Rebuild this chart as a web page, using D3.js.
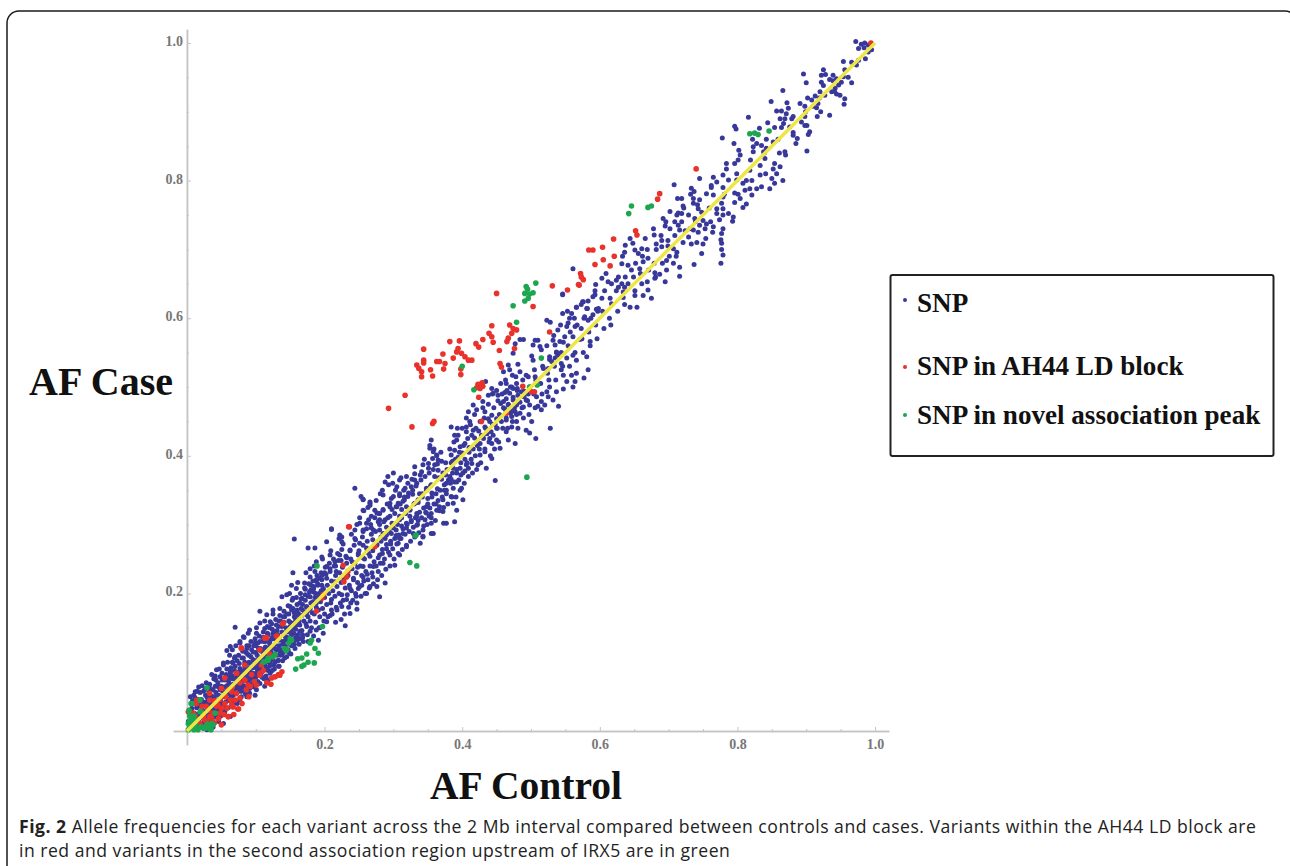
<!DOCTYPE html>
<html>
<head>
<meta charset="utf-8">
<script src="https://cdnjs.cloudflare.com/ajax/libs/d3/7.8.5/d3.min.js"></script>
<style>
html, body { margin: 0; padding: 0; background: #fff; }
svg { display: block; }
</style>
</head>
<body>
<svg id="chart" width="1290" height="866"></svg>
<script>
// values: [AF control, AF case]
const snp = [
[.972,1.002],[.980,.998],[.985,1.0],[.990,.997],[.984,.993],[.976,.992],[.995,.990],[.990,.987],[.986,.977],[.976,.975],[.966,.972],[.954,.973],[.973,.968],[.956,.961],[.925,.961],[.896,.955],[.922,.953],[.928,.954],[.900,.942],[.966,.942],[.954,.951],[.939,.953],[.934,.947],[.944,.948],[.922,.943],[.925,.938],[.951,.943],[.947,.939],[.942,.934],[.866,.931],[.944,.926],[.949,.924],[.956,.919],[.955,.911],[.937,.929],[.927,.924],[.920,.929],[.913,.923],[.908,.917],[.917,.912],[.915,.906],[.910,.908],[.849,.915],[.872,.913],[.891,.912],[.898,.908],[.874,.905],[.857,.901],[.864,.901],[.871,.897],[.881,.893],[.869,.890],[.898,.893],[.916,.893],[.934,.895],[.816,.892],[.844,.884],[.796,.879],[.798,.875],[.832,.876],[.867,.883],[.864,.877],[.854,.877],[.876,.878],[.893,.885],[.898,.880],[.905,.871],[.903,.867],[.881,.866],[.887,.861],[.885,.854],[.778,.862],[.828,.854],[.823,.849],[.835,.851],[.852,.856],[.842,.847],[.823,.842],[.838,.842],[.869,.842],[.870,.837],[.901,.843],[.795,.854],[.802,.844],[.804,.837],[.801,.830],[.796,.825],[.784,.825],[.784,.817],[.840,.832],[.833,.822],[.818,.815],[.833,.808],[.854,.825],[.862,.820],[.852,.817],[.857,.810],[.850,.803],[.866,.800],[.854,.796],[.847,.788],[.835,.791],[.828,.788],[.818,.788],[.811,.786],[.813,.800],[.808,.796],[.799,.801],[.787,.801],[.779,.808],[.765,.805],[.745,.803],[.770,.798],[.762,.793],[.708,.794],[.733,.789],[.737,.784],[.755,.781],[.765,.779],[.796,.782],[.821,.779],[.804,.774],[.796,.768],[.813,.766],[.808,.761],[.779,.776],[.777,.767],[.779,.759],[.736,.774],[.745,.772],[.736,.767],[.713,.774],[.719,.774],[.721,.763],[.743,.759],[.748,.754],[.702,.755],[.714,.753],[.719,.752],[.770,.759],[.770,.752],[.779,.750],[.787,.752],[.794,.747],[.774,.743],[.793,.741],[.738,.745],[.750,.742],[.755,.737],[.745,.735],[.709,.740],[.714,.735],[.696,.740],[.695,.734],[.716,.728],[.724,.727],[.736,.728],[.743,.725],[.753,.730],[.765,.733],[.764,.725],[.779,.730],[.777,.723],[.754,.716],[.750,.708],[.729,.718],[.733,.708],[.776,.714],[.777,.709],[.777,.700],[.779,.692],[.776,.680],[.748,.694],[.737,.678],[.679,.721],[.666,.716],[.682,.708],[.690,.713],[.699,.713],[.690,.704],[.707,.701],[.712,.696],[.644,.716],[.648,.709],[.637,.706],[.636,.696],[.651,.699],[.661,.701],[.656,.694],[.670,.687],[.663,.682],[.697,.684],[.707,.680],[.716,.674],[.697,.670],[.716,.661],[.680,.666],[.687,.664],[.680,.658],[.695,.653],[.632,.679],[.641,.677],[.646,.670],[.658,.672],[.669,.653],[.670,.641],[.663,.633],[.675,.629],[.561,.672],[.603,.658],[.609,.665],[.612,.653],[.594,.649],[.624,.655],[.632,.650],[.627,.645],[.636,.645],[.641,.650],[.634,.638],[.651,.633],[.615,.629],[.590,.631],[.603,.629],[.546,.634],[.576,.624],[.566,.616],[.581,.614],[.598,.614],[.617,.621],[.644,.616],[.654,.616],
[.593,.634],[.546,.635],[.575,.624],[.582,.614],[.595,.613],[.566,.616],[.546,.607],[.559,.607],[.556,.600],[.578,.602],[.583,.597],[.590,.605],[.523,.597],[.528,.594],[.539,.583],[.554,.593],[.552,.588],[.564,.588],[.573,.585],[.549,.573],[.561,.573],[.571,.569],[.542,.566],[.532,.568],[.535,.561],[.506,.568],[.510,.568],[.503,.561],[.513,.559],[.515,.554],[.537,.551],[.527,.544],[.535,.542],[.539,.546],[.530,.537],[.484,.569],[.489,.569],[.477,.563],[.501,.545],[.474,.549],[.467,.532],[.481,.533],[.503,.539],[.484,.522],[.469,.525],[.460,.522],[.473,.517],[.493,.517],[.506,.515],[.518,.527],[.525,.527],[.544,.534],[.544,.525],[.552,.542],[.561,.546],[.566,.539],[.581,.544],[.586,.566],[.583,.525],[.559,.517],[.547,.517],[.552,.508],[.564,.508],[.577,.513],[.561,.500],[.547,.497],[.527,.500],[.523,.493],[.537,.493],[.525,.486],[.532,.481],[.508,.486],[.515,.479],[.520,.474],[.540,.472],[.510,.472],[.515,.467],[.464,.505],[.479,.505],[.474,.498],[.469,.491],[.464,.483],[.481,.488],[.486,.493],[.474,.481],[.460,.479],[.467,.474],[.479,.474],[.493,.481],[.489,.471],[.498,.474],[.434,.508],[.443,.498],[.445,.491],[.438,.488],[.452,.488],[.430,.479],[.416,.474],[.421,.467],[.409,.464],[.433,.464],[.443,.459],[.438,.454],[.450,.454],[.477,.464],[.464,.452],[.472,.457],[.484,.462],[.479,.450],[.501,.450],[.528,.440],[.472,.442],[.464,.435],[.493,.437],[.498,.433],[.507,.425],[.467,.423],[.477,.418],[.455,.411],[.450,.423],[.440,.425],[.443,.418],[.433,.442],[.411,.450],[.406,.442],[.416,.437],[.406,.435],[.384,.442],[.389,.430],[.392,.423],[.426,.418],[.433,.406],[.426,.401],[.443,.396],[.404,.418],[.397,.413],[.389,.408],[.384,.401],[.355,.423],[.353,.411],[.358,.406],[.363,.401],[.365,.394],[.360,.387],[.351,.389],[.365,.379],[.343,.387],[.331,.384],[.341,.377],[.331,.374],[.406,.387],[.414,.389],[.397,.382],[.387,.382],[.392,.375],[.409,.382],[.423,.387],[.435,.382],[.448,.364],[.382,.370],[.377,.360],[.387,.353],[.399,.353],[.401,.336],[.377,.345],[.384,.341],[.387,.331],[.392,.321],[.372,.336],[.367,.326],[.389,.304],[.377,.302],[.372,.319],[.355,.358],[.348,.353],[.338,.345],[.331,.365],[.319,.370],[.309,.365],[.300,.375],[.292,.370],[.288,.362],[.284,.350],[.285,.343],[.305,.355],[.317,.353],[.326,.355],[.309,.345],[.321,.341],[.300,.341],[.295,.326],[.307,.331],[.319,.326],[.331,.331],[.334,.316],[.324,.312],[.309,.312],[.348,.326],[.355,.316],[.346,.307],[.355,.302],[.334,.299],[.319,.295],[.304,.292],[.309,.280],[.244,.353],[.253,.341],[.256,.337],[.266,.333],[.266,.328],[.256,.321],[.273,.321],[.280,.316],[.268,.312],[.278,.304],[.288,.307],[.261,.302],[.251,.302],[.268,.295],[.256,.290],[.210,.293],[.225,.282],[.244,.292],[.280,.292],[.244,.280],[.290,.285],[.343,.282],[.355,.287],
[.256,.336],[.266,.331],[.295,.331],[.305,.326],[.314,.334],[.324,.321],[.285,.321],[.276,.317],[.264,.307],[.280,.307],[.295,.312],[.309,.307],[.319,.302],[.334,.312],[.348,.317],[.363,.321],[.373,.302],[.358,.287],[.343,.283],[.329,.287],[.314,.287],[.297,.287],[.285,.287],[.271,.292],[.256,.292],[.247,.300],[.222,.285],[.225,.275],[.210,.294],[.203,.275],[.156,.279],[.176,.266],[.186,.266],[.237,.263],[.251,.273],[.261,.266],[.276,.271],[.290,.271],[.307,.273],[.319,.268],[.339,.273],[.249,.256],[.266,.254],[.280,.256],[.295,.256],[.309,.256],[.302,.241],[.285,.244],[.271,.239],[.256,.239],[.222,.256],[.208,.256],[.215,.246],[.196,.253],[.188,.246],[.203,.239],[.217,.232],[.186,.232],[.179,.224],[.154,.230],[.171,.215],[.188,.220],[.203,.222],[.198,.207],[.184,.207],[.215,.217],[.242,.220],[.256,.224],[.266,.210],[.276,.210],[.280,.195],[.288,.215],[.261,.200],[.249,.207],[.237,.207],[.225,.198],[.232,.191],[.225,.181],[.237,.171],[.247,.177],[.210,.191],[.210,.176],[.230,.153],[.203,.159],[.193,.166],[.174,.181],[.159,.207],[.152,.212],[.145,.198],[.138,.195],[.154,.193],[.167,.193],[.179,.195],[.188,.186],[.174,.169],[.162,.171],[.150,.181],[.135,.178],[.125,.176],[.116,.169],[.106,.174],[.140,.166],[.155,.157],[.121,.159],[.106,.157],[.091,.147],[.070,.151],[.082,.137],[.101,.142],[.113,.149],[.125,.142],[.133,.152],[.145,.145],[.077,.128],[.063,.123],[.058,.117],[.070,.108],[.087,.120],[.099,.128],[.111,.130],[.121,.132],[.147,.118],[.138,.111],[.133,.103],[.155,.142],[.164,.145],[.188,.147],[.198,.142],[.191,.132],[.179,.145],[.174,.152],[.067,.099],[.053,.099],[.043,.089],[.036,.082],[.048,.079],[.063,.086],[.077,.091],[.091,.099],[.106,.106],[.121,.099],[.113,.089],[.104,.082],[.091,.084],[.082,.074],[.094,.069],[.106,.069],[.118,.074],[.113,.065],[.101,.060],[.091,.055],[.099,.052],[.077,.060],[.067,.052],[.077,.045],[.087,.050],[.026,.060],[.019,.056],[.012,.057],[.029,.050],[.041,.065],[.050,.065],[.060,.074],[.038,.045],[.050,.040],[.009,.040],[.007,.033],[.019,.040],[.031,.036],[.043,.026],[.067,.036],[.063,.021],[.053,.011],[.046,.014],[.038,.006],[.029,.002],[.004,.026],[.002,.014],
[.090,.110],[.096,.115],[.104,.120],[.112,.118],[.120,.122],[.128,.126],[.135,.132],[.142,.138],[.150,.152],[.158,.162],[.166,.178],[.172,.190],[.180,.205],[.190,.212],[.196,.226],[.208,.232],[.216,.240],[.224,.248],[.232,.252],[.240,.246],[.248,.238],[.256,.252],[.262,.262],[.270,.278],[.282,.282],[.290,.296],[.298,.302],[.302,.316],[.312,.322],[.316,.336],[.328,.344],[.336,.332],[.342,.340],[.350,.338],[.356,.346],[.364,.352],[.370,.366],[.376,.372],[.386,.392],[.394,.398],[.400,.404],[.410,.412],[.418,.426],[.424,.436],[.430,.428],[.436,.432],[.444,.446],[.450,.440],[.456,.458],[.462,.468],[.470,.462],[.476,.470],[.484,.478],[.490,.486],[.456,.476],[.462,.492],[.470,.500],[.480,.498],[.490,.494],[.496,.490],
[.130,.118],[.124,.112],[.118,.112],[.112,.104],[.104,.096],[.096,.092],[.088,.090],[.082,.086],[.074,.082],[.066,.076],[.058,.066],[.052,.058],[.046,.052],[.040,.050],[.034,.052],[.028,.042],[.022,.030],[.016,.024],[.012,.016],[.008,.010],[.016,.010],[.024,.018],[.034,.024],[.040,.036],[.048,.030],[.056,.034],[.060,.046],[.070,.066],[.080,.064],[.086,.076],[.094,.076],[.102,.090],[.110,.096],[.118,.088],[.126,.096],[.134,.094],[.142,.106],[.150,.128],[.158,.136],[.168,.140],[.176,.130],[.184,.138],[.192,.150],[.200,.170],[.208,.168],[.216,.158],[.218,.176],[.224,.162],[.238,.186],[.246,.196],[.254,.212],[.262,.228],[.270,.224],[.278,.232],[.284,.264],[.296,.276],[.304,.284],[.312,.298],[.326,.304],[.336,.306],[.344,.298],[.352,.312],[.362,.330],[.374,.350],[.384,.366],[.392,.362],[.398,.372],[.404,.378],
// dense part of the band, low frequencies
[.005,.012],[.007,.021],[.006,.030],[.008,.044],[.005,.050],[.012,.006],[.013,.018],[.011,.026],[.014,.034],[.012,.048],[.015,.058],[.019,.008],[.017,.014],[.020,.024],[.018,.036],[.021,.046],[.017,.064],[.024,.012],[.026,.020],[.023,.030],[.025,.042],[.027,.052],[.024,.058],[.031,.016],[.029,.024],[.033,.038],[.030,.048],[.032,.056],[.028,.070],[.036,.014],[.038,.030],[.035,.042],[.037,.050],[.034,.062],[.039,.076],[.043,.020],[.041,.032],[.044,.040],[.042,.056],[.045,.070],[.041,.080],[.049,.022],[.047,.036],[.050,.050],[.048,.060],[.051,.074],[.047,.090],[.055,.028],[.053,.040],[.056,.052],[.054,.064],[.057,.082],[.053,.096],
[.060,.034],[.062,.044],[.059,.060],[.061,.070],[.063,.084],[.059,.100],[.062,.110],[.067,.042],[.065,.050],[.068,.062],[.066,.080],[.064,.092],[.069,.106],[.066,.118],[.073,.040],[.071,.054],[.074,.070],[.072,.078],[.070,.094],[.075,.110],[.071,.124],[.079,.050],[.077,.058],[.080,.072],[.078,.088],[.076,.098],[.081,.116],[.077,.130],[.085,.054],[.083,.066],[.086,.080],[.084,.092],[.082,.106],[.087,.124],[.083,.136],[.091,.062],[.089,.072],[.092,.086],[.090,.100],[.088,.112],[.093,.130],[.089,.142],[.097,.064],[.095,.080],[.098,.094],[.096,.104],[.094,.118],[.099,.134],
[.103,.072],[.101,.084],[.104,.098],[.102,.110],[.100,.124],[.105,.138],[.101,.150],[.109,.078],[.107,.090],[.110,.106],[.108,.116],[.106,.130],[.111,.144],[.115,.080],[.113,.096],[.116,.108],[.114,.122],[.112,.136],[.117,.152],[.113,.160],[.121,.084],[.119,.100],[.122,.114],[.120,.128],[.118,.140],[.123,.156],[.127,.090],[.125,.104],[.128,.120],[.126,.134],[.124,.148],[.129,.162],[.125,.170],[.133,.094],[.131,.110],[.134,.124],[.132,.140],[.130,.154],[.135,.168],[.139,.102],[.137,.118],[.140,.130],[.138,.144],[.136,.160],[.141,.174],[.145,.108],[.143,.124],[.146,.136],[.144,.150],[.142,.166],[.147,.182],[.151,.112],[.149,.126],[.152,.140],[.150,.158],[.148,.170],[.153,.190],[.149,.200],
[.157,.120],[.155,.132],[.158,.148],[.156,.166],[.154,.178],[.159,.194],[.163,.126],[.161,.140],[.164,.154],[.162,.168],[.160,.184],[.165,.200],[.161,.216],[.169,.130],[.167,.146],[.170,.160],[.168,.176],[.166,.192],[.171,.208],[.175,.140],[.173,.156],[.176,.166],[.174,.180],[.172,.198],[.177,.214],[.173,.230],[.181,.150],[.179,.160],[.182,.172],[.180,.186],[.178,.202],[.183,.218],[.179,.236],[.187,.158],[.185,.170],[.188,.180],[.186,.194],[.184,.210],[.189,.226],[.185,.240],[.193,.150],[.191,.176],[.194,.188],[.192,.200],[.190,.214],[.195,.230],[.199,.160],[.197,.178],[.200,.194],[.198,.206],[.196,.220],[.201,.238],[.197,.250],
[.205,.166],[.203,.184],[.206,.200],[.204,.212],[.202,.228],[.207,.244],[.211,.170],[.209,.186],[.212,.204],[.210,.218],[.208,.236],[.213,.250],[.209,.262],[.217,.180],[.215,.196],[.218,.210],[.216,.226],[.214,.240],[.219,.258],[.223,.186],[.221,.200],[.224,.216],[.222,.230],[.220,.248],[.225,.264],[.221,.280],[.229,.170],[.227,.190],[.230,.208],[.228,.220],[.226,.238],[.231,.254],[.227,.272],[.235,.180],[.233,.198],[.236,.212],[.234,.226],[.232,.244],[.237,.262],[.241,.190],[.239,.204],[.242,.222],[.240,.236],[.238,.250],[.243,.270],[.239,.286],[.247,.186],[.245,.200],[.248,.216],[.246,.230],[.244,.244],[.249,.258],[.245,.278],
[.253,.196],[.251,.210],[.254,.226],[.252,.240],[.250,.262],[.255,.282],[.251,.310],[.259,.200],[.257,.218],[.260,.232],[.258,.250],[.256,.270],[.261,.294],[.257,.320],[.265,.208],[.263,.220],[.266,.240],[.264,.258],[.262,.276],[.267,.300],[.263,.325],[.271,.214],[.269,.230],[.272,.246],[.270,.262],[.268,.286],[.273,.310],[.277,.220],[.275,.240],[.278,.252],[.276,.270],[.274,.290],[.279,.316],[.275,.335],[.283,.226],[.281,.244],[.284,.258],[.282,.276],[.280,.300],[.285,.322],[.281,.345],[.289,.235],[.287,.250],[.290,.265],[.288,.280],[.286,.304],[.291,.330],[.295,.240],[.293,.260],[.296,.272],[.294,.290],[.292,.310],[.297,.338],[.293,.358],
[.301,.250],[.299,.265],[.302,.280],[.300,.295],[.298,.322],[.303,.350],[.299,.360],[.307,.258],[.305,.272],[.308,.285],[.306,.300],[.304,.326],[.309,.342],[.313,.264],[.311,.280],[.314,.294],[.312,.310],[.310,.330],[.315,.350],[.311,.368],[.319,.270],[.317,.286],[.320,.300],[.318,.316],[.316,.340],[.321,.360],[.325,.276],[.323,.290],[.326,.306],[.324,.322],[.322,.346],[.327,.366],[.331,.282],[.329,.296],[.332,.310],[.330,.330],[.328,.350],[.333,.356],[.337,.288],[.335,.300],[.338,.318],[.336,.336],[.334,.360],[.339,.372],[.343,.292],[.341,.310],[.344,.324],[.342,.345],[.340,.365],[.345,.395],
[.349,.300],[.347,.318],[.350,.330],[.348,.350],[.346,.370],[.351,.382],[.355,.310],[.353,.324],[.356,.340],[.354,.356],[.352,.375],[.357,.396],[.353,.415],[.361,.306],[.359,.330],[.362,.345],[.360,.370],[.358,.380],[.363,.400],[.359,.410],[.367,.320],[.365,.335],[.368,.350],[.366,.368],[.364,.388],[.369,.405],[.373,.325],[.371,.340],[.374,.358],[.372,.375],[.370,.392],[.379,.330],[.377,.350],[.380,.365],[.378,.380],[.376,.390],[.385,.340],[.383,.360],[.386,.375],[.384,.390],[.382,.410],[.391,.340],[.389,.362],[.392,.380],[.390,.395],[.388,.420],[.393,.440],[.397,.350],[.395,.365],[.398,.390],[.396,.405],[.394,.430],
[.403,.360],[.401,.375],[.404,.395],[.402,.415],[.400,.440],[.409,.370],[.407,.390],[.410,.405],[.408,.425],[.406,.455],[.415,.375],[.413,.395],[.416,.410],[.414,.430],[.412,.445],[.421,.380],[.419,.400],[.422,.415],[.420,.440],[.418,.460],[.427,.390],[.425,.410],[.428,.430],[.426,.450],[.433,.410],[.431,.425],[.434,.440],[.432,.455],[.430,.470],[.441,.400],[.439,.420],[.442,.435],[.440,.450],[.438,.475],[.447,.410],[.445,.430],[.448,.445],[.446,.470],[.444,.490],[.453,.420],[.451,.440],[.454,.460],[.452,.480],[.450,.495],[.459,.440],[.457,.450],[.460,.470],[.458,.490],[.456,.505],
[.466,.440],[.464,.455],[.467,.475],[.465,.495],[.463,.510],[.473,.450],[.471,.465],[.474,.485],[.472,.500],[.481,.440],[.479,.460],[.482,.480],[.480,.495],[.478,.515],[.489,.455],[.487,.470],[.490,.490],[.488,.510],[.497,.460],[.495,.480],[.498,.500],[.496,.515],[.506,.470],[.504,.490],[.507,.510],[.505,.525],[.516,.490],[.514,.505],[.517,.530],[.526,.510],[.524,.520],[.527,.540],[.523,.560],[.536,.510],[.534,.530],[.537,.550],[.533,.575],[.546,.530],[.544,.550],[.547,.565],[.543,.590],[.556,.530],[.554,.560],[.557,.580],[.553,.610],[.566,.520],[.564,.550],[.567,.590],[.563,.600],
[.576,.550],[.574,.570],[.577,.600],[.573,.620],[.586,.560],[.584,.580],[.587,.600],[.583,.625],[.596,.570],[.594,.590],[.597,.610],[.593,.640],[.606,.585],[.604,.610],[.607,.640],[.616,.590],[.614,.600],[.617,.650],[.626,.610],[.624,.640],[.627,.660],[.636,.620],[.634,.630],[.637,.660],[.633,.690],[.651,.640],[.649,.660],[.652,.680],[.661,.650],[.659,.665],[.662,.690],[.671,.670],[.669,.700],[.681,.660],[.679,.680],[.682,.700],[.678,.730],[.691,.680],[.689,.720],[.692,.745],[.701,.690],[.699,.705],[.702,.730],[.711,.690],[.709,.720],[.712,.750],[.721,.710],[.719,.740],[.722,.760],[.731,.730],[.729,.750],[.732,.780],[.741,.710],[.739,.740],[.742,.765],[.761,.740],[.759,.760],[.762,.790],[.781,.780],[.779,.790],[.801,.780],[.799,.810],[.821,.800],[.819,.830],[.822,.860],[.841,.810],[.839,.840],[.842,.860],[.861,.840],[.859,.860],[.862,.890],[.881,.870],[.879,.890],[.901,.880],[.899,.900],[.902,.920],[.921,.900],[.919,.920],[.941,.930],[.939,.945],[.961,.950],
// more of the solid stretch below 0.2
[.010,.052],[.016,.046],[.022,.066],[.027,.062],[.033,.068],[.038,.060],[.042,.074],[.046,.064],[.051,.084],[.055,.074],[.058,.090],[.062,.078],[.066,.100],[.069,.088],[.073,.102],[.076,.086],[.080,.106],[.084,.100],[.086,.114],[.090,.124],[.093,.108],[.097,.124],[.100,.114],[.103,.128],[.107,.120],[.110,.136],[.114,.130],[.117,.142],[.120,.150],[.124,.136],[.127,.144],[.131,.146],[.134,.160],[.138,.152],[.141,.158],[.145,.170],[.148,.160],[.152,.176],[.156,.172],[.160,.176],[.164,.186],[.168,.184],[.172,.206],[.176,.196],[.180,.212],[.184,.202],[.188,.218],[.192,.222],[.196,.212],[.200,.230],
[.036,.036],[.041,.044],[.045,.044],[.049,.044],[.054,.050],[.058,.054],[.063,.066],[.067,.068],[.071,.074],[.075,.084],[.079,.082],[.083,.080],[.087,.098],[.091,.092],[.095,.098],[.099,.102],[.103,.104],[.107,.100],[.111,.110],[.115,.114],[.119,.116],[.123,.120],[.127,.112],[.131,.118],[.135,.116],[.139,.126],[.143,.132],[.147,.144],[.151,.146],[.155,.150],[.159,.154],[.163,.160],[.167,.168],[.171,.172],[.175,.174],[.179,.178],[.183,.188],[.187,.200],[.191,.194],[.195,.204],
[.030,.030],[.035,.028],[.039,.020],[.044,.032],[.048,.040],[.052,.032],[.056,.042],[.060,.054],[.064,.050],[.068,.056],[.072,.062],[.076,.066],[.080,.058],[.084,.060],[.088,.066],[.092,.078],[.096,.084],[.100,.078],[.104,.088],[.108,.084],[.112,.076],[.116,.092],[.120,.094],[.124,.088],[.128,.100],[.132,.102],[.136,.110],[.140,.114],[.144,.118],[.148,.114],[.152,.124],[.156,.126],[.160,.132],[.164,.134],[.168,.136]
];

const ah44 = [
[.553,.641],[.570,.648],[.576,.656],[.572,.665],[.573,.660],[.593,.678],[.615,.676],[.605,.685],[.621,.690],[.584,.699],[.590,.699],[.604,.703],[.620,.715],[.652,.727],[.654,.721],[.684,.773],[.687,.781],[.740,.817],[.994,1.0],
[.450,.636],[.503,.617],[.531,.647],[.569,.649],[.527,.580],[.443,.589],[.469,.590],[.474,.585],[.479,.583],[.472,.578],[.467,.571],[.465,.566],[.439,.578],[.443,.573],[.430,.569],[.420,.563],[.424,.558],[.445,.565],[.454,.553],[.476,.556],[.382,.566],[.396,.567],[.344,.555],[.394,.556],[.392,.551],[.399,.549],[.372,.548],[.387,.542],[.404,.544],[.409,.539],[.414,.539],[.344,.539],[.344,.535],[.334,.532],[.337,.527],[.341,.522],[.341,.515],[.363,.537],[.367,.537],[.375,.534],[.373,.526],[.354,.525],[.357,.516],[.398,.526],[.398,.518],[.455,.534],[.457,.529],[.423,.504],[.430,.501],[.426,.498],[.421,.499],[.429,.506],[.424,.485],[.428,.450],[.317,.488],[.293,.469],[.327,.442],[.357,.447],[.359,.450],[.488,.501],[.501,.493],[.505,.493],[.464,.462],[.236,.297],
[.235,.297],[.227,.241],[.234,.232],[.232,.224],[.228,.217],[.198,.198],[.196,.193],[.273,.268],[.188,.174],[.140,.157],[.131,.138],[.116,.136],[.079,.121],[.106,.118],[.138,.086],[.133,.082],[.128,.079],[.123,.077],[.122,.068],[.106,.084],[.101,.067],[.089,.067],[.084,.074],[.072,.084],[.055,.077],[.050,.062],[.065,.057],[.077,.048],[.063,.045],[.055,.040],[.074,.032],[.060,.021],[.050,.033],[.043,.036],[.033,.045],[.031,.030],[.024,.021],[.036,.018],[.038,.026],[.009,.026],[.002,.028],[.007,.016],[.019,.011],[.029,.014],[.014,.040],[.046,.018],
[.079,.120],[.113,.135],[.130,.138],[.139,.156],[.072,.084],[.084,.074],[.106,.081],[.072,.055],[.065,.038],[.075,.032],[.060,.021],[.048,.026],[.033,.021],[.045,.038],[.033,.055],[.028,.036],[.014,.045],[.004,.028],[.026,.016],[.050,.009],[.067,.035],[.084,.096],[.060,.060],[.128,.079],[.135,.081],[.108,.096],[.092,.065],[.058,.033],[.070,.045],[.056,.050],[.040,.044],[.048,.046],[.086,.060],
[.094,.082],[.098,.072],[.111,.088],[.077,.070],[.066,.064],[.054,.024],[.068,.024],[.080,.040],[.040,.012],[.022,.036],[.028,.008],[.012,.022],[.090,.050],[.116,.070],[.120,.112]
];

const novel = [
[.642,.752],[.646,.763],[.670,.761],[.675,.763],[.818,.868],[.825,.869],[.830,.867],[.846,.872],
[.493,.646],[.495,.642],[.491,.636],[.498,.635],[.503,.637],[.491,.625],[.496,.629],[.507,.651],[.474,.618],[.479,.594],[.515,.542],[.400,.530],[.417,.496],[.498,.500],[.509,.503],[.494,.369],[.332,.284],
[.333,.285],[.324,.245],[.334,.240],[.189,.240],[.197,.152],[.152,.132],[.145,.118],[.181,.132],[.179,.128],[.186,.120],[.191,.113],[.174,.112],[.161,.105],[.185,.099],[.176,.100],[.170,.096],[.167,.094],[.158,.090],[.128,.111],[.118,.103],[.111,.100],[.029,.063],[.007,.040],[.019,.028],[.004,.022],[.002,.011],[.009,.006],[.026,.006],[.041,.026],[.024,.004],[.002,.002],[.007,.016],[.036,.011],[.014,.004],
[.118,.106],[.125,.108],[.113,.101],[.142,.120],[.144,.117],[.150,.134],[.019,.045],[.021,.028],[.038,.009],[.026,.004],[.006,.040],[.012,.010],[.016,.002],[.004,.006],[.032,.004],[.010,.022],[.167,.106],[.148,.128],
[.003,.030],[.006,.018],[.010,.002],[.020,.006],[.030,.010],[.035,.002],[.004,.014],[.014,.016]
];

const majorTicks = [0.2, 0.4, 0.6, 0.8, 1.0];
const minorTicks = [0.05, 0.1, 0.15, 0.25, 0.3, 0.35, 0.45, 0.5, 0.55, 0.65, 0.7, 0.75, 0.85, 0.9, 0.95];
const legendItems = ['SNP', 'SNP in AH44 LD block', 'SNP in novel association peak'];
const colors = ['#39399a', '#e9302c', '#1fa64f'];

const svg = d3.select('#chart');

// soft look of the scanned figure
svg.append('defs').append('filter').attr('id', 'soft')
    .append('feGaussianBlur').attr('stdDeviation', 0.45);

// outer rounded frame, runs off the bottom and right
svg.append('rect')
    .attr('x', 7).attr('y', 11)
    .attr('width', 1290).attr('height', 900)
    .attr('rx', 12)
    .attr('fill', '#fff')
    .attr('stroke', '#1a1a1a')
    .attr('stroke-width', 1.5);

const x = d3.scaleLinear().domain([-0.02, 1.02]).range([173.2, 888.8]);
const y = d3.scaleLinear().domain([-0.02, 1.02]).range([744.8, 29.2]);

function styleAxis(g) {
    g.selectAll('.domain').attr('stroke', '#c4c4c4').attr('stroke-width', 1.5);
    g.selectAll('.tick line').attr('stroke', '#c4c4c4');
    g.selectAll('text')
        .attr('font-family', '"Liberation Serif", serif')
        .attr('font-size', 14)
        .attr('font-weight', 'bold')
        .attr('fill', '#777');
}

const yZero = y(0), xZero = x(0);

svg.append('g').attr('transform', `translate(0,${yZero})`)
    .call(d3.axisBottom(x).tickValues(minorTicks).tickSize(-2).tickSizeOuter(0).tickFormat(''))
    .call(styleAxis);
svg.append('g').attr('transform', `translate(0,${yZero})`)
    .call(d3.axisBottom(x).tickValues(majorTicks).tickSize(-4).tickSizeOuter(0).tickPadding(8).tickFormat(d3.format('.1f')))
    .call(styleAxis);
svg.append('g').attr('transform', `translate(${xZero},0)`)
    .call(d3.axisLeft(y).tickValues(minorTicks).tickSize(-2).tickSizeOuter(0).tickFormat(''))
    .call(styleAxis);
svg.append('g').attr('transform', `translate(${xZero},0)`)
    .call(d3.axisLeft(y).tickValues(majorTicks).tickSize(-4).tickSizeOuter(0).tickPadding(4).tickFormat(d3.format('.1f')))
    .call(styleAxis)
    .call(function(g) { g.selectAll('text').attr('dy', '0.18em'); });

const marks = svg.append('g').attr('filter', 'url(#soft)');

[snp, ah44, novel].forEach(function(points, i) {
    marks.append('g').selectAll('circle')
        .data(points)
        .enter()
        .append('circle')
        .attr('cx', function(d) { return x(d[0]); })
        .attr('cy', function(d) { return y(d[1]); })
        .attr('r', i == 0 ? 2.5 : 2.8)
        .attr('fill', colors[i]);
});

// y = x reference line
marks.append('line')
    .attr('x1', x(0)).attr('y1', y(0))
    .attr('x2', x(1)).attr('y2', y(1))
    .attr('stroke', '#efe645')
    .attr('stroke-width', 3.4);

// axis titles
svg.append('text').text('AF Case')
    .attr('x', 29).attr('y', 395)
    .attr('font-family', '"Liberation Serif", serif')
    .attr('font-weight', 'bold').attr('font-size', 40).attr('fill', '#111');
svg.append('text').text('AF Control')
    .attr('x', 430).attr('y', 799)
    .attr('font-family', '"Liberation Serif", serif')
    .attr('font-weight', 'bold').attr('font-size', 39.5).attr('fill', '#111');

// legend box
svg.append('rect')
    .attr('x', 890.5).attr('y', 275)
    .attr('width', 383).attr('height', 181)
    .attr('rx', 2)
    .attr('fill', '#fff')
    .attr('stroke', '#222')
    .attr('stroke-width', 2);

const legendY = [312, 375, 424];
const legendDotY = [300, 367, 415];
legendItems.forEach(function(label, i) {
    svg.append('circle')
        .attr('cx', 905).attr('cy', legendDotY[i]).attr('r', 2)
        .attr('fill', colors[i]).attr('filter', 'url(#soft)');
    svg.append('text').text(label)
        .attr('x', 917).attr('y', legendY[i])
        .attr('font-family', '"Liberation Serif", serif')
        .attr('font-weight', 'bold').attr('font-size', 27.1).attr('fill', '#111');
});

// caption
const caption = svg.append('g')
    .attr('font-family', '"Open Sans", sans-serif')
    .attr('font-size', 17.6)
    .attr('letter-spacing', 0.5)
    .attr('fill', '#222');
const line1 = caption.append('text').attr('x', 19).attr('y', 832.5);
line1.append('tspan').attr('font-weight', 'bold').text('Fig. 2');
line1.append('tspan').text(' Allele frequencies for each variant across the 2 Mb interval compared between controls and cases. Variants within the AH44 LD block are');
caption.append('text').attr('x', 19).attr('y', 856.5)
    .text('in red and variants in the second association region upstream of IRX5 are in green');
</script>
</body>
</html>
